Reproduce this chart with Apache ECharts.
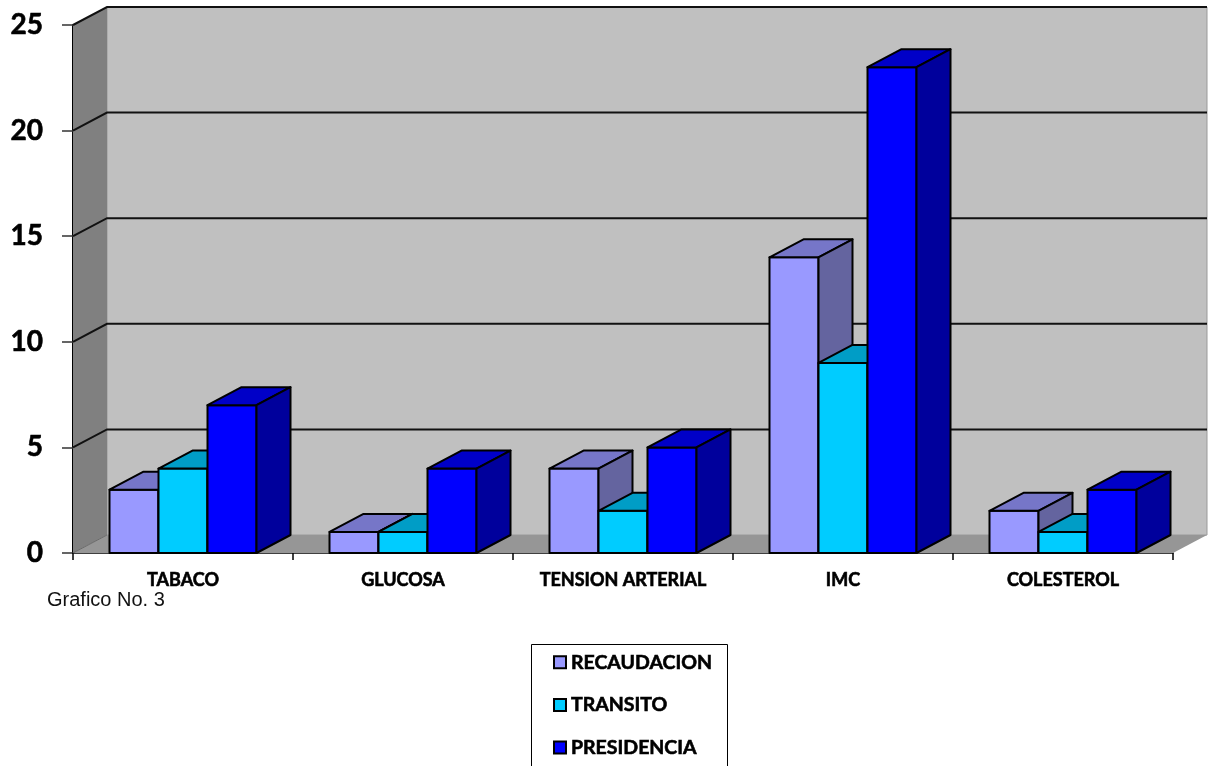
<!DOCTYPE html>
<html>
<head>
<meta charset="utf-8">
<script src="https://cdn.jsdelivr.net/npm/echarts@6/dist/echarts.min.js"></script>
<style>
  html, body { margin: 0; padding: 0; background: #fff; }
  #chart { width: 1218px; height: 766px; }
</style>
</head>
<body>
<div id="chart"></div>
<script>
// Categories and series values
const categories = ['TABACO', 'GLUCOSA', 'TENSION ARTERIAL', 'IMC', 'COLESTEROL'];
const recaudacion = [3, 1, 4, 14, 2];
const transito = [4, 1, 2, 9, 1];
const presidencia = [7, 4, 5, 23, 3];
const yTicks = [0, 5, 10, 15, 20, 25];

// 3D look: depth offset of walls and bars, in pixels
const DX = 34, DY = -18;
const BAR_RATIO = 49 / 220;

const palettes = [
  { front: '#9999FF', top: '#7676C8', side: '#64649F' },
  { front: '#00CCFF', top: '#009DC6', side: '#0089AD' },
  { front: '#0000FF', top: '#0000C8', side: '#00009C' }
];

const boldText = { fontFamily: 'Lato', fontWeight: 'bold', color: '#000', textBorderColor: '#000', textBorderWidth: 0.6 };

function wallsRender(params, api) {
  const cs = params.coordSys;
  const x0 = cs.x, x1 = cs.x + cs.width;
  const yTop = cs.y, yBot = cs.y + cs.height;
  const children = [];
  // back wall
  children.push({ type: 'polygon', shape: { points: [[x0 + DX, yTop + DY], [x1 + DX, yTop + DY], [x1 + DX, yBot + DY], [x0 + DX, yBot + DY]] }, style: { fill: '#C0C0C0', stroke: '#9a9a9a', lineWidth: 1 } });
  // left side wall
  children.push({ type: 'polygon', shape: { points: [[x0, yTop], [x0 + DX, yTop + DY], [x0 + DX, yBot + DY], [x0, yBot]] }, style: { fill: '#808080' } });
  // floor
  children.push({ type: 'polygon', shape: { points: [[x0, yBot], [x0 + DX, yBot + DY], [x1 + DX, yBot + DY], [x1, yBot]] }, style: { fill: '#969696' } });
  // gridlines running over the side wall and along the back wall
  yTicks.forEach(function (t) {
    const y = api.coord([0, t])[1];
    if (t === 0) {
      children.push({ type: 'polyline', shape: { points: [[x0, y], [x0 + DX, y + DY]] }, style: { stroke: '#6a6a6a', lineWidth: 1, fill: null } });
    } else {
      children.push({ type: 'polyline', shape: { points: [[x0, y], [x0 + DX, y + DY], [x1 + DX, y + DY]] }, style: { stroke: '#111', lineWidth: 2, fill: null } });
    }
  });
  return { type: 'group', children: children };
}

function barRenderer(seriesIndex) {
  const pal = palettes[seriesIndex];
  return function (params, api) {
    const cat = api.value(0);
    const val = api.value(1);
    const top = api.coord([cat, val]);
    const base = api.coord([cat, 0]);
    const band = api.size([1, 0])[0];
    const bw = band * BAR_RATIO;
    const xa = top[0] - 1.5 * bw + seriesIndex * bw;
    const xb = xa + bw;
    const yt = top[1], yb = base[1];
    const stroke = { stroke: '#000', lineWidth: 2, lineJoin: 'round' };
    return {
      type: 'group',
      children: [
        { type: 'polygon', shape: { points: [[xa, yb], [xa, yt], [xb, yt], [xb, yb]] }, style: Object.assign({ fill: pal.front }, stroke) },
        { type: 'polygon', shape: { points: [[xa, yt], [xb, yt], [xb + DX, yt + DY], [xa + DX, yt + DY]] }, style: Object.assign({ fill: pal.top }, stroke) },
        { type: 'polygon', shape: { points: [[xb, yt], [xb + DX, yt + DY], [xb + DX, yb + DY], [xb, yb]] }, style: Object.assign({ fill: pal.side }, stroke) }
      ]
    };
  };
}

function toData(arr) { return arr.map(function (v, i) { return [i, v]; }); }

const seriesDefs = [
  { name: 'RECAUDACION', values: recaudacion },
  { name: 'TRANSITO', values: transito },
  { name: 'PRESIDENCIA', values: presidencia }
];

const chart = echarts.init(document.getElementById('chart'), null, { renderer: 'canvas' });

const option = {
  backgroundColor: '#ffffff',
  animation: false,
  grid: { left: 73, right: 45, top: 25, bottom: 213 },
  xAxis: {
    type: 'category',
    data: categories,
    boundaryGap: true,
    axisLine: { show: true, lineStyle: { color: '#000', width: 1.5 } },
    axisTick: { show: true, length: 7, lineStyle: { color: '#000', width: 1.5 } },
    axisLabel: Object.assign({ margin: 18, fontSize: 18 }, boldText),
    splitLine: { show: false }
  },
  yAxis: {
    type: 'value',
    min: 0, max: 25, interval: 5,
    axisLine: { show: true, lineStyle: { color: '#000', width: 2 } },
    axisTick: { show: true, length: 11, lineStyle: { color: '#333', width: 1.5 } },
    axisLabel: Object.assign({ margin: 30, fontSize: 28 }, boldText),
    splitLine: { show: false }
  },
  legend: {
    data: seriesDefs.map(function (s) { return s.name; }),
    orient: 'vertical',
    left: 553, top: 652,
    padding: 0,
    itemWidth: 12, itemHeight: 12, itemGap: 22,
    icon: 'rect',
    textStyle: Object.assign({ fontSize: 19.5, lineHeight: 20 }, boldText)
  },
  graphic: [
    { type: 'rect', left: 529, top: 642, shape: { width: 196, height: 140 }, style: { fill: 'none', stroke: '#000', lineWidth: 1 }, silent: true },
    { type: 'text', left: 47, top: 590, style: { text: 'Grafico No. 3', font: '20px "Liberation Sans", Arial, sans-serif', fill: '#111' } }
  ],
  series: [
    { type: 'custom', name: 'walls', silent: true, z: 1, renderItem: wallsRender, data: [[0, 0]], encode: { x: 0, y: 1 } }
  ].concat(seriesDefs.map(function (s, i) {
    return {
      type: 'custom',
      name: s.name,
      z: 2,
      renderItem: barRenderer(i),
      itemStyle: { color: palettes[i].front, borderColor: '#000', borderWidth: 1.5 },
      data: toData(s.values),
      encode: { x: 0, y: 1 }
    };
  }))
};

chart.setOption(option);
</script>
</body>
</html>
